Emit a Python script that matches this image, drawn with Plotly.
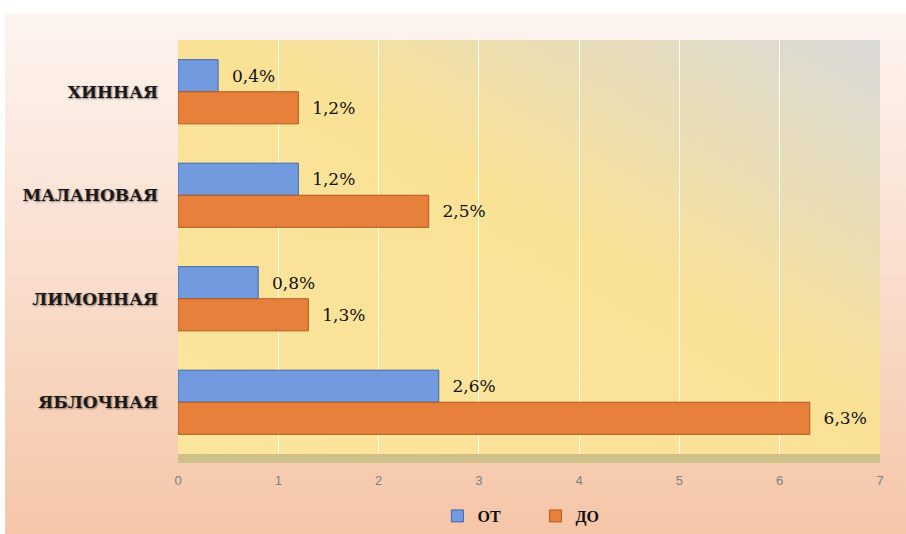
import base64
import plotly.graph_objects as go

categories = ["ХИННАЯ", "МАЛАНОВАЯ", "ЛИМОННАЯ", "ЯБЛОЧНАЯ"]
ot_values = [0.4, 1.2, 0.8, 2.6]
do_values = [1.2, 2.5, 1.3, 6.3]
series_names = ["ОТ", "ДО"]
x_ticks = [0, 1, 2, 3, 4, 5, 6, 7]

W, H = 906, 534
L, R, T, B = 178, 26, 40, 80
PH = H - T - B


def svg_uri(svg):
    return "data:image/svg+xml;base64," + base64.b64encode(svg.encode("utf-8")).decode()


outer_svg = (
    '<svg xmlns="http://www.w3.org/2000/svg" viewBox="0 0 100 100" width="100" height="100" preserveAspectRatio="none">'
    '<defs><linearGradient id="g" x1="0" y1="0" x2="0" y2="1">'
    '<stop offset="0" stop-color="#fdf4f0"/><stop offset="0.5" stop-color="#f9dccb"/>'
    '<stop offset="1" stop-color="#f5c3a3"/></linearGradient></defs>'
    '<rect width="100" height="100" fill="url(#g)"/></svg>'
)
plot_svg = (
    '<svg xmlns="http://www.w3.org/2000/svg" viewBox="0 0 100 100" width="100" height="100" preserveAspectRatio="none">'
    '<defs><linearGradient id="p" x1="0" y1="1" x2="1" y2="0">'
    '<stop offset="0" stop-color="#fce59c"/><stop offset="0.55" stop-color="#f9e196"/>'
    '<stop offset="1" stop-color="#d9d9d9"/></linearGradient></defs>'
    '<rect width="100" height="100" fill="url(#p)"/></svg>'
)

label_font = dict(family="DejaVu Serif", size=17, color="#111111")
NB = "\u00a0\u00a0"

fig = go.Figure()
fig.add_trace(go.Bar(
    y=categories, x=ot_values, name=series_names[0], orientation="h",
    marker=dict(color="#729ade", line=dict(color="#3f67ad", width=1)),
    texttemplate=NB + "%{x:.1f}%", textposition="outside", cliponaxis=False,
    textfont=label_font, legendrank=1,
))
fig.add_trace(go.Bar(
    y=categories, x=do_values, name=series_names[1], orientation="h",
    marker=dict(color="#e7803a", line=dict(color="#b35a20", width=1)),
    texttemplate=NB + "%{x:.1f}%", textposition="outside", cliponaxis=False,
    textfont=label_font, legendrank=2,
))

fig.update_layout(
    width=W, height=H,
    margin=dict(l=L, r=R, t=T, b=B, autoexpand=False),
    paper_bgcolor="white",
    plot_bgcolor="rgba(0,0,0,0)",
    barmode="group", bargap=0.38, bargroupgap=0,
    separators=", ",
    showlegend=True,
    legend=dict(
        orientation="h", xref="container", yref="container",
        x=0.591, xanchor="center", y=1 - 516 / H, yanchor="middle",
        font=dict(family="Liberation Serif", size=16, color="#111111", weight="bold"),
        entrywidth=53, bgcolor="rgba(0,0,0,0)",
    ),
    images=[
        dict(source=svg_uri(outer_svg), xref="paper", yref="paper",
             x=-(L - 5) / (W - L - R), y=1 + (T - 13) / PH,
             sizex=(W - 5 + 20) / (W - L - R), sizey=(H - 13 + 30) / PH,
             sizing="stretch", layer="below", xanchor="left", yanchor="top"),
        dict(source=svg_uri(plot_svg), xref="paper", yref="paper",
             x=0, y=1, sizex=1, sizey=1,
             sizing="stretch", layer="below", xanchor="left", yanchor="top"),
    ],
    shapes=[
        dict(type="rect", xref="paper", yref="paper", layer="below",
             x0=0, x1=1, y0=0, y1=-9 / PH,
             fillcolor="#cfc08a", line=dict(width=0)),
    ],
    xaxis=dict(
        range=[0, 7], tickvals=x_ticks, showgrid=True, gridcolor="rgba(255,255,255,0.85)",
        gridwidth=1, zeroline=False, showline=False,
        tickfont=dict(family="Liberation Sans", size=13, color="#7f7f7f"),
        ticklabelstandoff=17,
    ),
    yaxis=dict(
        categoryorder="array", categoryarray=categories, autorange="reversed",
        showgrid=False, showline=False, zeroline=False,
        tickfont=dict(family="DejaVu Serif", size=17, color="#1a1a1a",
                      weight="bold", shadow="1px 1px 2px rgba(0,0,0,0.45)"),
        ticklabelstandoff=19,
    ),
)

fig.write_html("out.html")
